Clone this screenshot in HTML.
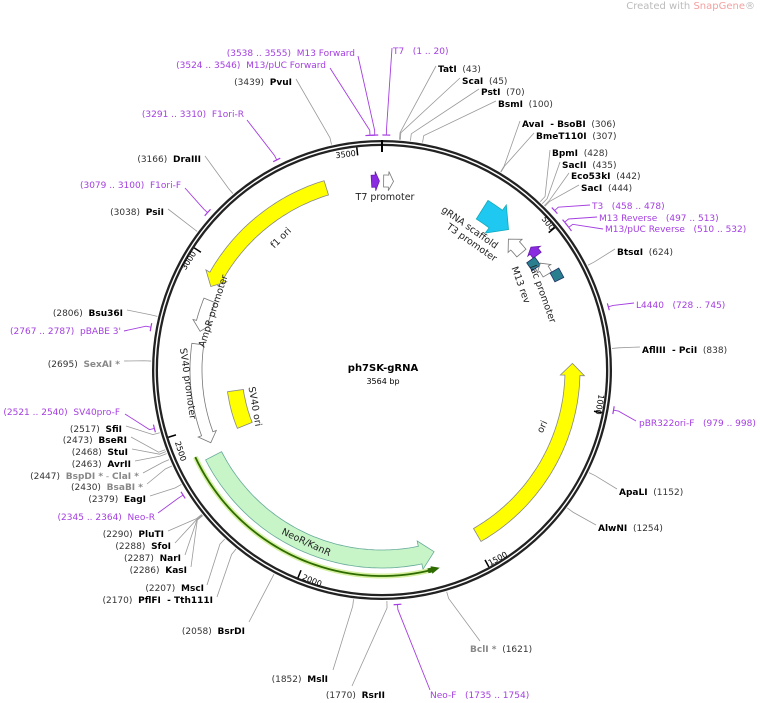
<!DOCTYPE html>
<html><head><meta charset="utf-8"><style>
body{margin:0;background:#fff;}
svg{display:block;font-family:"DejaVu Sans","Liberation Sans",sans-serif;font-size:9px;}
.b{font-weight:bold;fill:#000}
.n{fill:#333}
.p{fill:#a43ee0}
.g{fill:#888;font-weight:bold}
.gn{fill:#888}
.f{font-size:9.5px;fill:#222}
</style></head><body>
<svg id="s" width="760" height="703" viewBox="0 0 760 703" xmlns="http://www.w3.org/2000/svg">
<g id="lines"></g>
<circle cx="382" cy="370" r="227" fill="none" stroke="#222" stroke-width="6"/>
<circle cx="382" cy="370" r="227" fill="none" stroke="#fff" stroke-width="1.4"/>
<g id="feat"></g>
<text x="755" y="9" text-anchor="end" style="font-size:10px;fill:#bbb">Created with <tspan fill="#f5a0a0">SnapGene</tspan>®</text>
<text x="383" y="371" text-anchor="middle" style="font-weight:bold;font-size:10px">ph7SK-gRNA</text>
<text x="383" y="384" text-anchor="middle" style="font-size:8px">3564 bp</text>
<text class="f" transform="translate(283,240) rotate(-45)" text-anchor="middle">f1 ori</text>
<text class="f" transform="translate(545,428) rotate(-65)" text-anchor="middle">ori</text>
<text class="f" transform="translate(305,545) rotate(25)" text-anchor="middle">NeoR/KanR</text>
<text class="f" transform="translate(216,312) rotate(-72)" text-anchor="middle">AmpR promoter</text>
<text class="f" transform="translate(185,384) rotate(82)" text-anchor="middle">SV40 promoter</text>
<text class="f" transform="translate(252,407) rotate(80)" text-anchor="middle">SV40 ori</text>
<text class="f" x="385" y="200" text-anchor="middle">T7 promoter</text>
<text class="f" transform="translate(468,230) rotate(35)" text-anchor="middle">gRNA scaffold</text>
<text class="f" transform="translate(470,245) rotate(35)" text-anchor="middle">T3 promoter</text>
<text class="f" transform="translate(540,295) rotate(70)" text-anchor="middle">lac promoter</text>
<text class="f" transform="translate(518,286) rotate(70)" text-anchor="middle">M13 rev</text>
<g style="font-size:8px">
<text transform="translate(346,157) rotate(-7)" text-anchor="middle">3500</text>
<text transform="translate(546,225) rotate(52)" text-anchor="middle">500</text>
<text transform="translate(597,404) rotate(100)" text-anchor="middle">1000</text>
<text transform="translate(499,561) rotate(-29)" text-anchor="middle">1500</text>
<text transform="translate(311,583) rotate(22)" text-anchor="middle">2000</text>
<text transform="translate(178,452) rotate(72)" text-anchor="middle">2500</text>
<text transform="translate(191,262) rotate(-57)" text-anchor="middle">3000</text>
</g>
<text x="393" y="54" class="p">T7 &#160;&#160;(1 .. 20)</text>
<text x="438" y="72"><tspan class="b">TatI</tspan><tspan class="n"> &#160;(43)</tspan></text>
<text x="462" y="84"><tspan class="b">ScaI</tspan><tspan class="n"> &#160;(45)</tspan></text>
<text x="481" y="95"><tspan class="b">PstI</tspan><tspan class="n"> &#160;(70)</tspan></text>
<text x="498" y="107"><tspan class="b">BsmI</tspan><tspan class="n"> &#160;(100)</tspan></text>
<text x="522" y="127"><tspan class="b">AvaI &#160;- BsoBI</tspan><tspan class="n"> &#160;(306)</tspan></text>
<text x="536" y="139"><tspan class="b">BmeT110I</tspan><tspan class="n"> &#160;(307)</tspan></text>
<text x="552" y="156"><tspan class="b">BpmI</tspan><tspan class="n"> &#160;(428)</tspan></text>
<text x="562" y="168"><tspan class="b">SacII</tspan><tspan class="n"> &#160;(435)</tspan></text>
<text x="571" y="179"><tspan class="b">Eco53kI</tspan><tspan class="n"> &#160;(442)</tspan></text>
<text x="581" y="191"><tspan class="b">SacI</tspan><tspan class="n"> &#160;(444)</tspan></text>
<text x="592" y="209" class="p">T3 &#160;&#160;(458 .. 478)</text>
<text x="599" y="221" class="p">M13 Reverse &#160;&#160;(497 .. 513)</text>
<text x="605" y="232" class="p">M13/pUC Reverse &#160;&#160;(510 .. 532)</text>
<text x="617" y="255"><tspan class="b">BtsαI</tspan><tspan class="n"> &#160;(624)</tspan></text>
<text x="636" y="308" class="p">L4440 &#160;&#160;(728 .. 745)</text>
<text x="642" y="353"><tspan class="b">AflIII &#160;- PciI</tspan><tspan class="n"> &#160;(838)</tspan></text>
<text x="639" y="426" class="p">pBR322ori-F &#160;&#160;(979 .. 998)</text>
<text x="619" y="495"><tspan class="b">ApaLI</tspan><tspan class="n"> &#160;(1152)</tspan></text>
<text x="598" y="531"><tspan class="b">AlwNI</tspan><tspan class="n"> &#160;(1254)</tspan></text>
<text x="470" y="652"><tspan class="g">BclI *</tspan><tspan class="n"> &#160;(1621)</tspan></text>
<text x="430" y="698" class="p">Neo-F &#160;&#160;(1735 .. 1754)</text>
<g text-anchor="end">
<text x="355" y="56" class="p">(3538 .. 3555) &#160;M13 Forward</text>
<text x="326" y="68" class="p">(3524 .. 3546) &#160;M13/pUC Forward</text>
<text x="292" y="85"><tspan class="n">(3439) &#160;</tspan><tspan class="b">PvuI</tspan></text>
<text x="244" y="117" class="p">(3291 .. 3310) &#160;F1ori-R</text>
<text x="201" y="162"><tspan class="n">(3166) &#160;</tspan><tspan class="b">DraIII</tspan></text>
<text x="181" y="188" class="p">(3079 .. 3100) &#160;F1ori-F</text>
<text x="164" y="215"><tspan class="n">(3038) &#160;</tspan><tspan class="b">PsiI</tspan></text>
<text x="123" y="316"><tspan class="n">(2806) &#160;</tspan><tspan class="b">Bsu36I</tspan></text>
<text x="121" y="334" class="p">(2767 .. 2787) &#160;pBABE 3'</text>
<text x="120" y="367"><tspan class="n">(2695) &#160;</tspan><tspan class="g">SexAI *</tspan></text>
<text x="120" y="415" class="p">(2521 .. 2540) &#160;SV40pro-F</text>
<text x="122" y="432"><tspan class="n">(2517) &#160;</tspan><tspan class="b">SfiI</tspan></text>
<text x="127" y="443"><tspan class="n">(2473) &#160;</tspan><tspan class="b">BseRI</tspan></text>
<text x="128" y="455"><tspan class="n">(2468) &#160;</tspan><tspan class="b">StuI</tspan></text>
<text x="131" y="467"><tspan class="n">(2463) &#160;</tspan><tspan class="b">AvrII</tspan></text>
<text x="139" y="479"><tspan class="n">(2447) &#160;</tspan><tspan class="g">BspDI *</tspan><tspan class="gn"> - </tspan><tspan class="g">ClaI *</tspan></text>
<text x="143" y="490"><tspan class="n">(2430) &#160;</tspan><tspan class="g">BsaBI *</tspan></text>
<text x="146" y="502"><tspan class="n">(2379) &#160;</tspan><tspan class="b">EagI</tspan></text>
<text x="155" y="520" class="p">(2345 .. 2364) &#160;Neo-R</text>
<text x="164" y="537"><tspan class="n">(2290) &#160;</tspan><tspan class="b">PluTI</tspan></text>
<text x="171" y="549"><tspan class="n">(2288) &#160;</tspan><tspan class="b">SfoI</tspan></text>
<text x="181" y="561"><tspan class="n">(2287) &#160;</tspan><tspan class="b">NarI</tspan></text>
<text x="187" y="573"><tspan class="n">(2286) &#160;</tspan><tspan class="b">KasI</tspan></text>
<text x="204" y="591"><tspan class="n">(2207) &#160;</tspan><tspan class="b">MscI</tspan></text>
<text x="213" y="603"><tspan class="n">(2170) &#160;</tspan><tspan class="b">PflFI &#160;- Tth111I</tspan></text>
<text x="245" y="634"><tspan class="n">(2058) &#160;</tspan><tspan class="b">BsrDI</tspan></text>
<text x="328" y="682"><tspan class="n">(1852) &#160;</tspan><tspan class="b">MslI</tspan></text>
<text x="385" y="698"><tspan class="n">(1770) &#160;</tspan><tspan class="b">RsrII</tspan></text>
</g>
</svg>
<script>
var NS="http://www.w3.org/2000/svg",CX=382,CY=370,N=3564;
function P(t,r){var a=t*Math.PI/180;return [CX+r*Math.sin(a),CY-r*Math.cos(a)];}
function el(p,tag,at){var e=document.createElementNS(NS,tag);for(var k in at)e.setAttribute(k,at[k]);document.getElementById(p).appendChild(e);return e;}
function deg(b){return b/N*360;}
function arcPts(a1,a2,r){var pts=[],n=Math.max(2,Math.ceil(Math.abs(a2-a1)));for(var i=0;i<=n;i++)pts.push(P(a1+(a2-a1)*i/n,r));return pts;}
function arrow(a1,a2,r1,r2,head,fill,stroke,hlen){
 var hl=hlen||Math.min(Math.abs(a2-a1)*0.5,(r2-r1)*0.5*57.3/((r1+r2)/2)*1.6),pts,ext=(r2-r1)*0.3;
 if(head==0){pts=arcPts(a1,a2,r2).concat(arcPts(a2,a1,r1));}
 else if(head>0){var b=a2-hl;pts=arcPts(a1,b,r2);pts.push(P(b,r2+ext));pts.push(P(a2,(r1+r2)/2));pts.push(P(b,r1-ext));pts=pts.concat(arcPts(b,a1,r1));}
 else{var b=a1+hl;pts=[P(a1,(r1+r2)/2),P(b,r2+ext)].concat(arcPts(b,a2,r2)).concat(arcPts(a2,b,r1));pts.push(P(b,r1-ext));}
 el("feat","polygon",{points:pts.map(function(p){return p[0].toFixed(1)+","+p[1].toFixed(1)}).join(" "),fill:fill,stroke:stroke,"stroke-width":0.8});
}
[500,1000,1500,2000,2500,3000,3500].forEach(function(b){var a=deg(b),p=P(a,224),q=P(a,216);el("feat","line",{x1:p[0],y1:p[1],x2:q[0],y2:q[1],stroke:"#000","stroke-width":1.5});});
var t0=P(0,230),t1=P(0,218);el("feat","line",{x1:t0[0],y1:t0[1],x2:t1[0],y2:t1[1],stroke:"#000","stroke-width":2});
arrow(-64,-17,183,198,-1,"#ffff00","#888");
arrow(88,150,183,198,-1,"#ffff00","#888");
arrow(164,243,180,198,-1,"#c8f5c8","#6a9");
var gp=arcPts(166,245,206);el("feat","polyline",{points:gp.map(String).join(" "),fill:"none",stroke:"#d4f0a0","stroke-width":5});
el("feat","polyline",{points:gp.map(String).join(" "),fill:"none",stroke:"#2e6b00","stroke-width":1.8});
arrow(164,167,204,208,-1,"#2e6b00","#2e6b00",2);
arrow(-113,-82,180,192,-1,"#fff","#777");
arrow(-78,-68,180,192,-1,"#fff","#777");
arrow(-112,-98,140,156,0,"#ffff00","#888");
arrow(-3.2,-0.8,183,195,1,"#8a2be2","#6a1ab2");
arrow(0.5,3.5,183,195,1,"#fff","#777");
arrow(32,42,178,200,1,"#1ec8f0","#1ab");
arrow(44,50,176,188,-1,"#fff","#777");
arrow(50.5,53.5,188,198,-1,"#8a2be2","#6a1ab2");
arrow(53.5,56.5,180,190,0,"#2a7f8f","#236");
arrow(56,60,186,196,-1,"#fff","#777");
arrow(60,63,194,204,0,"#2a7f8f","#236");
var sites=[[43,436,66],[45,460,78],[70,479,89],[100,496,101],[306,520,121],[307,534,133],[428,550,150],[435,560,162],[442,569,173],[444,579,185],[624,615,249],[838,640,347],[1152,617,489],[1254,596,525],[1621,480,641],[1770,352,686],[1852,333,670],[2058,249,622],[2170,217,597],[2207,207,585],[2286,191,567],[2287,185,555],[2288,175,543],[2290,168,531],[2379,150,496],[2430,147,484],[2447,143,473],[2463,135,461],[2468,132,449],[2473,131,437],[2517,126,426],[2695,124,361],[2806,127,310],[3038,168,209],[3166,205,156],[3439,296,79]];
sites.forEach(function(s){var a=deg(s[0]),p=P(a,231),q=P(a,238);el("lines","polyline",{points:[p,q,[s[1],s[2]]].map(String).join(" "),fill:"none",stroke:"#999","stroke-width":0.8});});
var prim=[[1,20,392,48],[3538,3555,358,56],[3524,3546,330,68],[3291,3310,247,120],[3079,3100,185,188],[2767,2787,124,331],[2521,2540,125,414],[2345,2364,158,513],[1735,1754,430,690],[979,998,636,421],[728,745,634,303],[458,478,590,205],[497,513,597,217],[510,532,603,229]];
prim.forEach(function(s){var a1=deg(s[0]),a2=deg(s[1]),pp=arcPts(a1,a2,235);el("lines","polyline",{points:pp.map(String).join(" "),fill:"none",stroke:"#a43ee0","stroke-width":1.2});var m=P((a1+a2)/2,235),q=P((a1+a2)/2,240);el("lines","polyline",{points:[m,q,[s[2],s[3]]].map(String).join(" "),fill:"none",stroke:"#a43ee0","stroke-width":0.9});});
</script>
</body></html>
